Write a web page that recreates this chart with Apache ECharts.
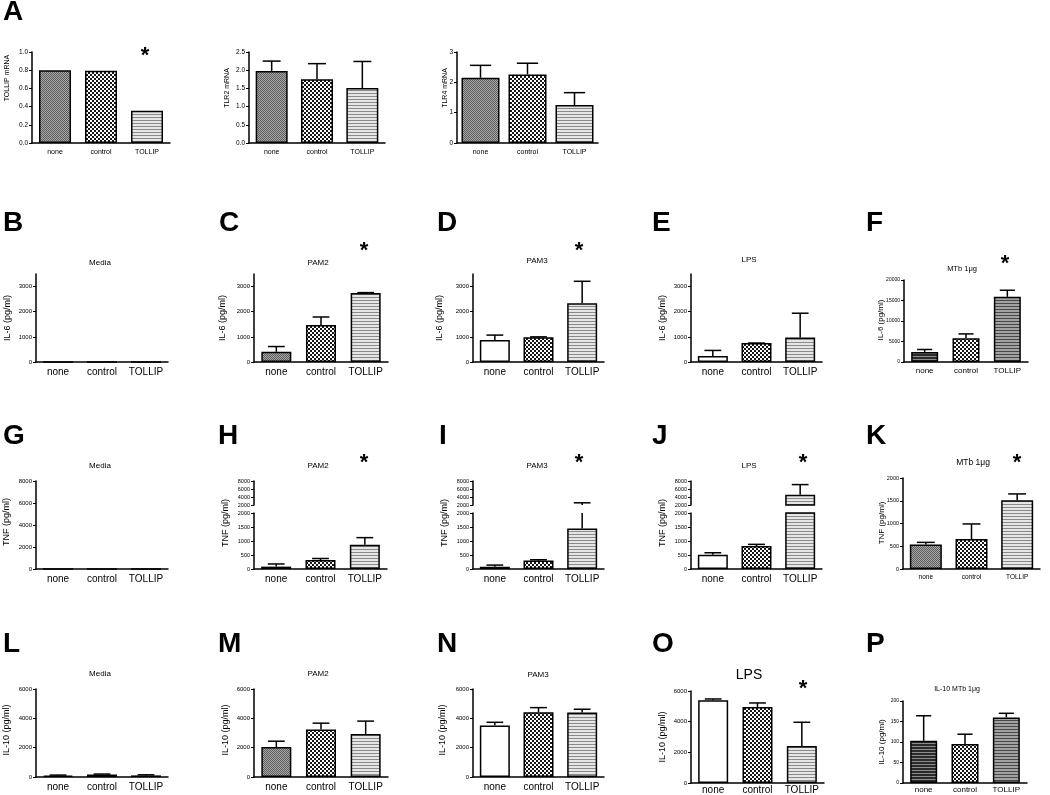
<!DOCTYPE html>
<html>
<head>
<meta charset="utf-8">
<title>TOLLIP knockdown - mRNA and cytokine panels</title>
<script src="https://cdn.jsdelivr.net/npm/echarts@6.0.0/dist/echarts.min.js"></script>
<style>
  html, body { margin: 0; padding: 0; background: #fff; }
  #chart { width: 1050px; height: 795px; }
</style>
</head>
<body>
<div id="chart"></div>
<script>
// groups on every x axis
const categories = ['none', 'control', 'TOLLIP'];

// A: mRNA, bar = mean, err = mean + SD
const tollipMrna = [0.80, 0.795, 0.355];
const tlr2Mrna = [1.98, 1.75, 1.51];
const tlr2MrnaErr = [2.25, 2.18, 2.24];
const tlr4Mrna = [2.15, 2.26, 1.25];
const tlr4MrnaErr = [2.56, 2.63, 1.66];

// B-F: IL-6 (pg/ml)
const il6Media = [0, 0, 0];
const il6Pam2 = [405, 1475, 2740];
const il6Pam2Err = [615, 1790, 2760];
const il6Pam3 = [875, 980, 2340];
const il6Pam3Err = [1070, 1000, 3210];
const il6Lps = [240, 755, 970];
const il6LpsErr = [460, 755, 1940];
const il6Mtb = [2450, 5800, 15900];
const il6MtbErr = [3050, 6850, 17500];

// G-K: TNF (pg/ml)
const tnfMedia = [0, 0, 0];
const tnfPam2 = [85, 320, 870];
const tnfPam2Err = [180, 375, 1120];
const tnfPam3 = [80, 300, 1450];
const tnfPam3Err = [140, 330, 2550];
const tnfLps = [510, 820, 4550];
const tnfLpsErr = [580, 880, 7100];
const tnfMtb = [540, 660, 1510];
const tnfMtbErr = [585, 990, 1650];

// L-P: IL-10 (pg/ml)
const il10Media = [90, 170, 110];
const il10MediaErr = [130, 200, 150];
const il10Pam2 = [2050, 3240, 2940];
const il10Pam2Err = [2440, 3670, 3810];
const il10Pam3 = [3510, 4420, 4390];
const il10Pam3Err = [3730, 4730, 4620];
const il10Lps = [5390, 4960, 2410];
const il10LpsErr = [5480, 5220, 3960];
const il10Mtb = [103, 95, 160];
const il10MtbErr = [164, 119, 170];

// tick labels
const ticksTollipMrna = [0, 0.2, 0.4, 0.6, 0.8, 1.0];
const ticksTlr2 = [0, 0.5, 1.0, 1.5, 2.0, 2.5];
const ticksTlr4 = [0, 1, 2, 3];
const ticksIl6 = [0, 1000, 2000, 3000];
const ticksIl6Mtb = [0, 5000, 10000, 15000, 20000];
const ticksTnf = [0, 2000, 4000, 6000, 8000];
const ticksTnfLow = [0, 500, 1000, 1500, 2000];
const ticksTnfHigh = [2000, 4000, 6000, 8000];
const ticksTnfMtb = [0, 500, 1000, 1500, 2000];
const ticksIl10 = [0, 2000, 4000, 6000];
const ticksIl10Mtb = [0, 50, 100, 150, 200];

const FONT = '"Liberation Sans", Arial, sans-serif';

// bar fills (small repeating canvases)
function pattern(rows) {
  const c = document.createElement('canvas');
  c.height = rows.length;
  c.width = rows[0].length;
  const g = c.getContext('2d');
  rows.forEach((r, y) => r.forEach((col, x) => { g.fillStyle = col; g.fillRect(x, y, 1, 1); }));
  return { image: c, repeat: 'repeat' };
}
function fillFor(name) {
  const D = '#161616', W = '#ffffff';
  switch (name) {
    case 'white': return '#ffffff';
    case 'gray': return pattern([['#5c5c5c', '#a8a8a8'], ['#a8a8a8', '#5c5c5c']]);
    case 'check': return pattern([[D, D, W, W], [D, D, W, W], [W, W, D, D], [W, W, D, D]]);
    case 'hlines': return pattern([['#8a8a8a'], ['#e6e6e6'], ['#e6e6e6']]);
    case 'darkhl': return pattern([['#2a2a2a'], ['#2a2a2a'], ['#8c8c8c']]);
    case 'midhl': return pattern([['#474747'], ['#a2a2a2'], ['#a2a2a2']]);
  }
}

// upward error bar, only the part that falls inside [lo, hi]
function errorBars(lo, hi, capHalf) {
  return function (params, api) {
    const x = api.value(0), v = api.value(1), e = api.value(2);
    const from = Math.max(v, lo), to = Math.min(e, hi);
    if (!(to > from) && !(e === v && v >= lo && v <= hi)) return;
    const p0 = api.coord([x, from]);
    const p1 = api.coord([x, to]);
    const st = { stroke: '#000', lineWidth: 1.5 };
    const kids = [{ type: 'line', shape: { x1: p0[0], y1: p0[1], x2: p1[0], y2: p1[1] }, style: st }];
    if (e <= hi) kids.push({ type: 'line', shape: { x1: p1[0] - capHalf, y1: p1[1], x2: p1[0] + capHalf, y2: p1[1] }, style: st });
    return { type: 'group', children: kids };
  };
}

const rowA = { top: 52, height: 91, tickSize: 6.5, catSize: 7, nameSize: 7, barW: 32, catMargin: 6, fills: ['gray', 'check', 'hlines'] };
const rowB = { top: 274, height: 88, max: 3500, ticks: ticksIl6, tickSize: 6, catSize: 10, nameSize: 9, barW: 30, catMargin: 5 };
const rowG = { tickSize: 6, catSize: 10, nameSize: 9, barW: 30, catMargin: 5 };
const rowL = { top: 689, height: 88, max: 6000, ticks: ticksIl10, tickSize: 6, catSize: 10, nameSize: 9, barW: 30, catMargin: 5 };
const brk = { upper: { top: 481, height: 24, min: 2000, max: 8000, ticks: ticksTnfHigh }, lower: { top: 513, height: 56, min: 0, max: 2000, ticks: ticksTnfLow } };

const panels = [
  Object.assign({}, rowA, { values: tollipMrna, errs: null, left: 32, width: 138, max: 1, ticks: ticksTollipMrna, dec: 1,
    yName: 'TOLLIP mRNA', nameAt: [7, 78], star: [145, 53] }),
  Object.assign({}, rowA, { values: tlr2Mrna, errs: tlr2MrnaErr, left: 249, width: 136, max: 2.5, ticks: ticksTlr2, dec: 1,
    yName: 'TLR2 mRNA', nameAt: [227, 88] }),
  Object.assign({}, rowA, { values: tlr4Mrna, errs: tlr4MrnaErr, left: 457, width: 141, max: 3, ticks: ticksTlr4, dec: 0, barW: 38,
    yName: 'TLR4 mRNA', nameAt: [445, 88] }),

  Object.assign({}, rowB, { values: il6Media, errs: null, left: 36, width: 132, fills: ['gray', 'check', 'hlines'],
    yName: 'IL-6 (pg/ml)', nameAt: [8, 318], title: ['Media', 100, 263, 8] }),
  Object.assign({}, rowB, { values: il6Pam2, errs: il6Pam2Err, left: 254, width: 134, fills: ['gray', 'check', 'hlines'],
    yName: 'IL-6 (pg/ml)', nameAt: [223, 318], title: ['PAM2', 318, 263, 8], star: [364, 248] }),
  Object.assign({}, rowB, { values: il6Pam3, errs: il6Pam3Err, left: 473, width: 131, fills: ['white', 'check', 'hlines'],
    yName: 'IL-6 (pg/ml)', nameAt: [440, 318], title: ['PAM3', 537, 261, 8], star: [579, 248] }),
  Object.assign({}, rowB, { values: il6Lps, errs: il6LpsErr, left: 691, width: 131, fills: ['white', 'check', 'hlines'],
    yName: 'IL-6 (pg/ml)', nameAt: [663, 318], title: ['LPS', 749, 260, 8] }),
  Object.assign({}, rowB, { values: il6Mtb, errs: il6MtbErr, left: 904, top: 280, height: 82, width: 124, max: 20000, ticks: ticksIl6Mtb,
    tickSize: 5, catSize: 8, nameSize: 8, barW: 27, fills: ['darkhl', 'check', 'midhl'],
    yName: 'IL-6 (pg/ml)', nameAt: [881, 320], title: ['MTb 1\u03bcg', 962, 269, 7.5], star: [1005, 261] }),

  Object.assign({}, rowG, { values: tnfMedia, errs: null, left: 36, width: 132, top: 481, height: 88, max: 8000, ticks: ticksTnf,
    fills: ['gray', 'check', 'hlines'], yName: 'TNF (pg/ml)', nameAt: [7, 522], title: ['Media', 100, 466, 8] }),
  Object.assign({}, rowG, brk, { broken: true, values: tnfPam2, errs: tnfPam2Err, left: 254, width: 133, tickSize: 5.5,
    fills: ['gray', 'check', 'hlines'], yName: 'TNF (pg/ml)', nameAt: [226, 523], title: ['PAM2', 318, 466, 8], star: [364, 460] }),
  Object.assign({}, rowG, brk, { broken: true, values: tnfPam3, errs: tnfPam3Err, left: 473, width: 131, tickSize: 5.5,
    fills: ['gray', 'check', 'hlines'], yName: 'TNF (pg/ml)', nameAt: [445, 523], title: ['PAM3', 537, 466, 8], star: [579, 460] }),
  Object.assign({}, rowG, brk, { broken: true, values: tnfLps, errs: tnfLpsErr, left: 691, width: 131, tickSize: 5.5,
    fills: ['white', 'check', 'hlines'], yName: 'TNF (pg/ml)', nameAt: [663, 523], title: ['LPS', 749, 466, 8], star: [803, 460] }),
  Object.assign({}, rowG, { values: tnfMtb, errs: tnfMtbErr, left: 903, width: 137, top: 478, height: 91, max: 2000, ticks: ticksTnfMtb,
    tickSize: 5.5, catSize: 6.5, nameSize: 8, barW: 32, fills: ['gray', 'check', 'hlines'],
    yName: 'TNF (pg/ml)', nameAt: [882, 523], title: ['MTb 1\u03bcg', 973, 463, 8.5], star: [1017, 460] }),

  Object.assign({}, rowL, { values: il10Media, errs: il10MediaErr, left: 36, width: 132, fills: ['gray', 'check', 'hlines'],
    yName: 'IL-10 (pg/ml)', nameAt: [7, 730], title: ['Media', 100, 674, 8] }),
  Object.assign({}, rowL, { values: il10Pam2, errs: il10Pam2Err, left: 254, width: 134, fills: ['gray', 'check', 'hlines'],
    yName: 'IL-10 (pg/ml)', nameAt: [226, 730], title: ['PAM2', 318, 674, 8] }),
  Object.assign({}, rowL, { values: il10Pam3, errs: il10Pam3Err, left: 473, width: 131, fills: ['white', 'check', 'hlines'],
    yName: 'IL-10 (pg/ml)', nameAt: [443, 730], title: ['PAM3', 538, 675, 8] }),
  Object.assign({}, rowL, { values: il10Lps, errs: il10LpsErr, left: 691, width: 133, top: 691, height: 92, catMargin: 2,
    fills: ['white', 'check', 'hlines'],
    yName: 'IL-10 (pg/ml)', nameAt: [663, 737], title: ['LPS', 749, 675, 14], star: [803, 686] }),
  Object.assign({}, rowL, { values: il10Mtb, errs: il10MtbErr, left: 903, width: 124, top: 701, height: 82, max: 200, ticks: ticksIl10Mtb,
    tickSize: 5, catSize: 8, nameSize: 8, barW: 27, catMargin: 3, fills: ['darkhl', 'check', 'midhl'],
    yName: 'IL-10 (pg/ml)', nameAt: [882, 742], title: ['IL-10 MTb 1\u03bcg', 957, 689, 7] })
];

const letters = [
  ['A', 3, 12],
  ['B', 3, 223], ['C', 219, 223], ['D', 437, 223], ['E', 652, 223], ['F', 866, 223],
  ['G', 3, 436], ['H', 218, 436], ['I', 439, 436], ['J', 652, 436], ['K', 866, 436],
  ['L', 3, 644], ['M', 218, 644], ['N', 437, 644], ['O', 652, 644], ['P', 866, 644]
];

const option = { animation: false, backgroundColor: '#ffffff', grid: [], xAxis: [], yAxis: [], series: [], graphic: [] };

function addGrid(p, top, height, min, max, ticks, showX) {
  const gi = option.grid.length;
  option.grid.push({ left: p.left, top: top, width: p.width, height: height, containLabel: false, outerBoundsMode: 'none' });
  option.xAxis.push({
    type: 'category', gridIndex: gi, data: categories, show: showX,
    axisLine: { lineStyle: { color: '#000', width: 1.5 } },
    axisTick: { alignWithLabel: true, length: 3, lineStyle: { color: '#000', width: 1 } },
    axisLabel: { interval: 0, hideOverlap: false, color: '#000', fontSize: p.catSize, fontFamily: FONT, margin: p.catMargin },
    splitLine: { show: false }
  });
  option.yAxis.push({
    type: 'value', gridIndex: gi, min: min, max: max,
    axisLine: { show: true, lineStyle: { color: '#000', width: 1.5 } },
    axisTick: { show: true, length: 3, customValues: ticks, lineStyle: { color: '#000', width: 1 } },
    axisLabel: { customValues: ticks, color: '#000', fontSize: p.tickSize, fontFamily: FONT, margin: 4,
      formatter: v => p.dec ? Number(v).toFixed(p.dec) : String(v) },
    splitLine: { show: false }
  });
  option.series.push({
    type: 'bar', xAxisIndex: gi, yAxisIndex: gi, barWidth: p.barW, clip: true, silent: true,
    data: p.values.map((v, i) => ({ value: v, itemStyle: { color: fillFor(p.fills[i]) } })),
    itemStyle: { borderColor: '#000', borderWidth: 1.5 }
  });
  if (p.errs) {
    option.series.push({
      type: 'custom', xAxisIndex: gi, yAxisIndex: gi, z: 3, silent: true,
      data: p.values.map((v, i) => [i, v, p.errs[i]]),
      renderItem: errorBars(min, max, p.barW * 0.28)
    });
  }
}

function text(str, x, y, font, align, rotate) {
  option.graphic.push({
    type: 'text', x: x, y: y, rotation: rotate ? Math.PI / 2 : 0, z: 100, silent: true,
    style: { text: str, font: font, fill: '#000', textAlign: align || 'center', textVerticalAlign: 'middle' }
  });
}

panels.forEach(p => {
  if (p.broken) {
    addGrid(p, p.upper.top, p.upper.height, p.upper.min, p.upper.max, p.upper.ticks, false);
    addGrid(p, p.lower.top, p.lower.height, p.lower.min, p.lower.max, p.lower.ticks, true);
  } else {
    addGrid(p, p.top, p.height, 0, p.max, p.ticks, true);
  }
  text(p.yName, p.nameAt[0], p.nameAt[1], p.nameSize + 'px ' + FONT, 'center', true);
  if (p.title) text(p.title[0], p.title[1], p.title[2], p.title[3] + 'px ' + FONT);
  if (p.star) text('*', p.star[0], p.star[1] + 3, 'bold 22px ' + FONT);
});
letters.forEach(l => text(l[0], l[1], l[2], 'bold 28px ' + FONT, 'left'));

const chart = echarts.init(document.getElementById('chart'));
chart.setOption(option);
</script>
</body>
</html>
